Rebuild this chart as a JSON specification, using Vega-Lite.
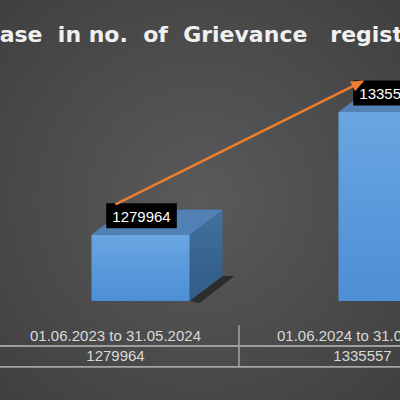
{
  "$schema": "https://vega.github.io/schema/vega-lite/v6.json",
  "width": 400,
  "height": 400,
  "padding": 0,
  "autosize": {"type": "none"},
  "background": "#4a4a4a",
  "config": {"view": {"stroke": null, "fill": {"gradient": "radial", "x1": 0.5, "y1": 0.5, "r1": 0, "x2": 0.5, "y2": 0.5, "r2": 0.75, "stops": [{"offset": 0, "color": "#5a5a5a"}, {"offset": 1, "color": "#3e3e3e"}]}}},
  "title": {"text": "Increase\u00a0 in no.\u00a0 of\u00a0 Grievance\u00a0\u00a0 registered", "anchor": "start", "frame": "group", "font": "DejaVu Sans", "fontSize": 22, "fontWeight": "bold", "color": "#f0f0f0", "offset": 0, "dx": -63, "dy": 64, "baseline": "alphabetic"},
  "data": {"values": [
    {"period": "01.06.2023 to 31.05.2024", "grievances": 1279964},
    {"period": "01.06.2024 to 31.05.2025", "grievances": 1335557}
  ]},
  "resolve": {"scale": {"y": "independent"}},
  "layer": [
    {
      "mark": {"type": "point", "shape": "M74,0L107,-25L119,-25L84,2Z", "size": 4, "filled": true, "opacity": 0.85, "fill": "#262626", "strokeWidth": 0},
      "encoding": {
        "x": {"field": "period", "type": "nominal", "scale": {"type": "band", "range": [-8, 486], "paddingInner": 0, "paddingOuter": 0}, "axis": null},
        "y": {"datum": 1250000, "type": "quantitative", "scale": {"domain": [1250000, 1350000], "range": [301, 80], "zero": false, "nice": false}, "axis": null}
      }
    },
    {
      "mark": {"type": "bar", "width": 98, "xOffset": 58, "yOffset": -25, "y2Offset": -25, "fill": {"gradient": "linear", "x1": 0, "y1": 0, "x2": 0, "y2": 1, "stops": [{"offset": 0, "color": "#43729f"}, {"offset": 1, "color": "#345f8a"}]}},
      "encoding": {
        "x": {"field": "period", "type": "nominal", "axis": null},
        "y": {"field": "grievances", "type": "quantitative", "scale": {"domain": [1250000, 1350000], "range": [301, 80], "zero": false, "nice": false}, "axis": null},
        "y2": {"datum": 1250000}
      }
    },
    {
      "mark": {"type": "point", "shape": "M74,0L107,-25L74,-25Z", "size": 4, "filled": true, "opacity": 1, "fill": "#345f8a", "strokeWidth": 0},
      "encoding": {
        "x": {"field": "period", "type": "nominal", "axis": null},
        "y": {"datum": 1250000, "type": "quantitative", "scale": {"domain": [1250000, 1350000], "range": [301, 80], "zero": false, "nice": false}, "axis": null}
      }
    },
    {
      "mark": {"type": "bar", "width": 98, "xOffset": 25, "fill": {"gradient": "linear", "x1": 0, "y1": 0, "x2": 0, "y2": 1, "stops": [{"offset": 0, "color": "#69a6e2"}, {"offset": 1, "color": "#4d8ed5"}]}},
      "encoding": {
        "x": {"field": "period", "type": "nominal", "axis": null},
        "y": {"field": "grievances", "type": "quantitative", "scale": {"domain": [1250000, 1350000], "range": [301, 80], "zero": false, "nice": false}, "axis": null},
        "y2": {"datum": 1250000}
      }
    },
    {
      "mark": {"type": "point", "shape": "M-24,0L74,0L107,-25L9,-25Z", "size": 4, "filled": true, "opacity": 1, "fill": "#5282b5", "strokeWidth": 0},
      "encoding": {
        "x": {"field": "period", "type": "nominal", "axis": null},
        "y": {"field": "grievances", "type": "quantitative", "scale": {"domain": [1250000, 1350000], "range": [301, 80], "zero": false, "nice": false}, "axis": null}
      }
    },
    {
      "mark": {"type": "point", "shape": "M-35.3,-12.5L35.3,-12.5L35.3,12.5L-35.3,12.5Z", "size": 4, "filled": true, "opacity": 1, "fill": "#000000", "strokeWidth": 0, "xOffset": 26, "yOffset": -19},
      "encoding": {
        "x": {"field": "period", "type": "nominal", "axis": null},
        "y": {"field": "grievances", "type": "quantitative", "scale": {"domain": [1250000, 1350000], "range": [301, 80], "zero": false, "nice": false}, "axis": null}
      }
    },
    {
      "mark": {"type": "text", "font": "Liberation Sans", "fontSize": 15, "color": "#ffffff", "align": "center", "baseline": "middle", "xOffset": 26, "yOffset": -18},
      "encoding": {
        "x": {"field": "period", "type": "nominal", "axis": null},
        "y": {"field": "grievances", "type": "quantitative", "scale": {"domain": [1250000, 1350000], "range": [301, 80], "zero": false, "nice": false}, "axis": null},
        "text": {"field": "grievances", "type": "quantitative", "format": "d"}
      }
    },
    {
      "mark": {"type": "line", "color": "#ed7d31", "strokeWidth": 2.5, "xOffset": 0, "yOffset": -30.5},
      "encoding": {
        "x": {"field": "period", "type": "nominal", "axis": null},
        "y": {"field": "grievances", "type": "quantitative", "scale": {"domain": [1250000, 1350000], "range": [301, 80], "zero": false, "nice": false}, "axis": null}
      }
    },
    {
      "transform": [{"filter": "datum.period == '01.06.2024 to 31.05.2025'"}],
      "mark": {"type": "point", "shape": "M2,0L-11,-5.5L-11,5.5Z", "size": 4, "filled": true, "opacity": 1, "fill": "#ed7d31", "strokeWidth": 0, "angle": 333.5, "xOffset": 0, "yOffset": -30.5},
      "encoding": {
        "x": {"field": "period", "type": "nominal", "axis": null},
        "y": {"field": "grievances", "type": "quantitative", "scale": {"domain": [1250000, 1350000], "range": [301, 80], "zero": false, "nice": false}, "axis": null}
      }
    },
    {
      "mark": {"type": "rule", "color": "#a3a3a3", "strokeWidth": 1.5},
      "encoding": {
        "y": {"datum": "mid", "type": "nominal", "scale": {"type": "point", "domain": ["top", "period", "mid", "count", "bottom"], "range": [320, 372]}, "axis": null}
      }
    },
    {
      "mark": {"type": "rule", "color": "#a3a3a3", "strokeWidth": 1.5},
      "encoding": {
        "y": {"datum": "bottom", "type": "nominal", "scale": {"type": "point", "domain": ["top", "period", "mid", "count", "bottom"], "range": [320, 372]}, "axis": null}
      }
    },
    {
      "mark": {"type": "rule", "color": "#a3a3a3", "strokeWidth": 1.5},
      "encoding": {
        "x": {"field": "period", "type": "nominal", "bandPosition": 0, "axis": null},
        "y": {"datum": "top", "type": "nominal", "scale": {"type": "point", "domain": ["top", "period", "mid", "count", "bottom"], "range": [320, 372]}, "axis": null},
        "y2": {"datum": "bottom"}
      }
    },
    {
      "mark": {"type": "text", "font": "Liberation Sans", "fontSize": 15, "color": "#d9d9d9", "align": "center", "baseline": "middle"},
      "encoding": {
        "x": {"field": "period", "type": "nominal", "axis": null},
        "y": {"datum": "period", "type": "nominal", "scale": {"type": "point", "domain": ["top", "period", "mid", "count", "bottom"], "range": [320, 372]}, "axis": null},
        "text": {"field": "period", "type": "nominal"}
      }
    },
    {
      "mark": {"type": "text", "font": "Liberation Sans", "fontSize": 15, "color": "#d9d9d9", "align": "center", "baseline": "middle"},
      "encoding": {
        "x": {"field": "period", "type": "nominal", "axis": null},
        "y": {"datum": "count", "type": "nominal", "scale": {"type": "point", "domain": ["top", "period", "mid", "count", "bottom"], "range": [320, 372]}, "axis": null},
        "text": {"field": "grievances", "type": "quantitative", "format": "d"}
      }
    }
  ]
}
